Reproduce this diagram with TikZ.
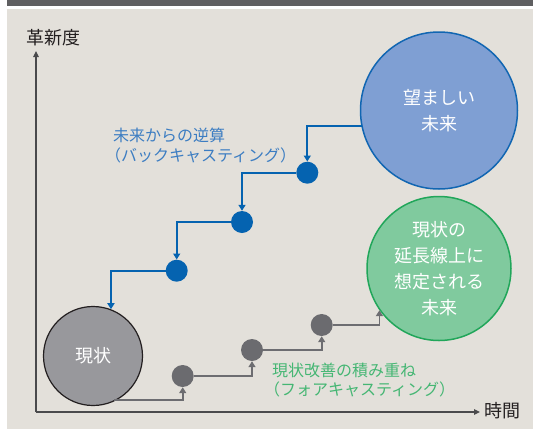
\documentclass[tikz,border=0pt]{standalone}
\usepackage{fontspec}
\newfontfamily\jp{Noto Sans CJK JP}
\usetikzlibrary{arrows.meta}
\definecolor{barc}{HTML}{5F5F61}
\definecolor{bgc}{HTML}{E3E0DA}
\definecolor{axisc}{HTML}{4A4A4C}
\definecolor{txtc}{HTML}{231F20}
\definecolor{graybig}{HTML}{98989C}
\definecolor{graydot}{HTML}{6B6B6F}
\definecolor{grayline}{HTML}{6D6D71}
\definecolor{bluebig}{HTML}{7F9FD3}
\definecolor{blueedge}{HTML}{1166B2}
\definecolor{bluedot}{HTML}{0563B0}
\definecolor{bluetxt}{HTML}{3C7DC2}
\definecolor{greenbig}{HTML}{80CA9E}
\definecolor{greenedge}{HTML}{21A65A}
\definecolor{greentxt}{HTML}{45B673}
\tikzset{
  bigcircle/.style={circle, inner sep=0pt, text=white, align=center,
    font=\jp\fontsize{18}{26}\selectfont},
  bluedotstyle/.style={circle, inner sep=0pt, minimum size=22pt, fill=bluedot},
  graydotstyle/.style={circle, inner sep=0pt, minimum size=22pt, fill=graydot},
  blueconn/.style={draw=bluedot, line width=1.7pt, -{Triangle[width=7pt,length=6pt]}},
  grayconn/.style={draw=grayline, line width=1.7pt, -{Triangle[width=7pt,length=6pt]}},
  axisline/.style={draw=axisc, line width=1.2pt, -{Triangle[width=5.5pt,length=6pt]}},
  axislabel/.style={inner sep=0pt, text=txtc, font=\jp\fontsize{18}{20}\selectfont},
  steplabel/.style={inner sep=0pt, align=left, anchor=west, font=\jp\fontsize{16}{19.5}\selectfont}
}
\begin{document}
\begin{tikzpicture}[x=1pt,y=-1pt]
\useasboundingbox (0,0) rectangle (533,429);
\fill[white] (0,0) rectangle (533,429);
\fill[barc] (7,0) rectangle (533,6);
\fill[bgc] (7,9) rectangle (533,429);

% axes
\coordinate (o) at (36,412);
\coordinate (ytop) at (36,51);
\coordinate (xend) at (480,412);
\draw[axisline] (o) -- (ytop);
\draw[axisline] (o) -- (xend);
\node[axislabel] (ylab) at (54,38) {革新度};
\node[axislabel] (xlab) at (502,411) {時間};

% big circles
\node[bigcircle, minimum size=157pt, fill=bluebig, draw=blueedge, line width=1.5pt] (future) at (439,110.5) {望ましい\\未来};
\node[bigcircle, minimum size=144pt, fill=greenbig, draw=greenedge, line width=1.5pt] (ext) at (439,268.5) {現状の\\延長線上に\\想定される\\未来};
\node[bigcircle, minimum size=99pt, fill=graybig, draw=txtc, line width=1.2pt] (now) at (93,356) {現状};

% blue dots
\node[bluedotstyle] (b1) at (307.3,172.7) {};
\node[bluedotstyle] (b2) at (242,222) {};
\node[bluedotstyle] (b3) at (176.7,270.7) {};

% gray dots
\node[graydotstyle] (g1) at (182.7,376) {};
\node[graydotstyle] (g2) at (252,350) {};
\node[graydotstyle] (g3) at (321.7,325) {};

% connector start points on the big circles
\coordinate (fs) at (362,126);
\coordinate (ns) at (114,400);

% blue connectors (backcasting)
\draw[blueconn] (fs) -| (b1.north);
\draw[blueconn] (b1.west) -| (b2.north);
\draw[blueconn] (b2.west) -| (b3.north);
\draw[blueconn] (b3.west) -| (now.69);

% gray connectors (forecasting)
\draw[grayconn] (ns) -| (g1.south);
\draw[grayconn] (g1.east) -| (g2.south);
\draw[grayconn] (g2.east) -| (g3.south);
\draw[grayconn] (g3.east) -| (ext.215);

% labels
\node[steplabel, text=bluetxt] (backlabel) at (113,145.5) {未来からの逆算\\\hspace*{-0.5em}（バックキャスティング）};
\node[steplabel, text=greentxt] (forelabel) at (272,380) {現状改善の積み重ね\\\hspace*{-0.5em}（フォアキャスティング）};
\end{tikzpicture}
\end{document}
